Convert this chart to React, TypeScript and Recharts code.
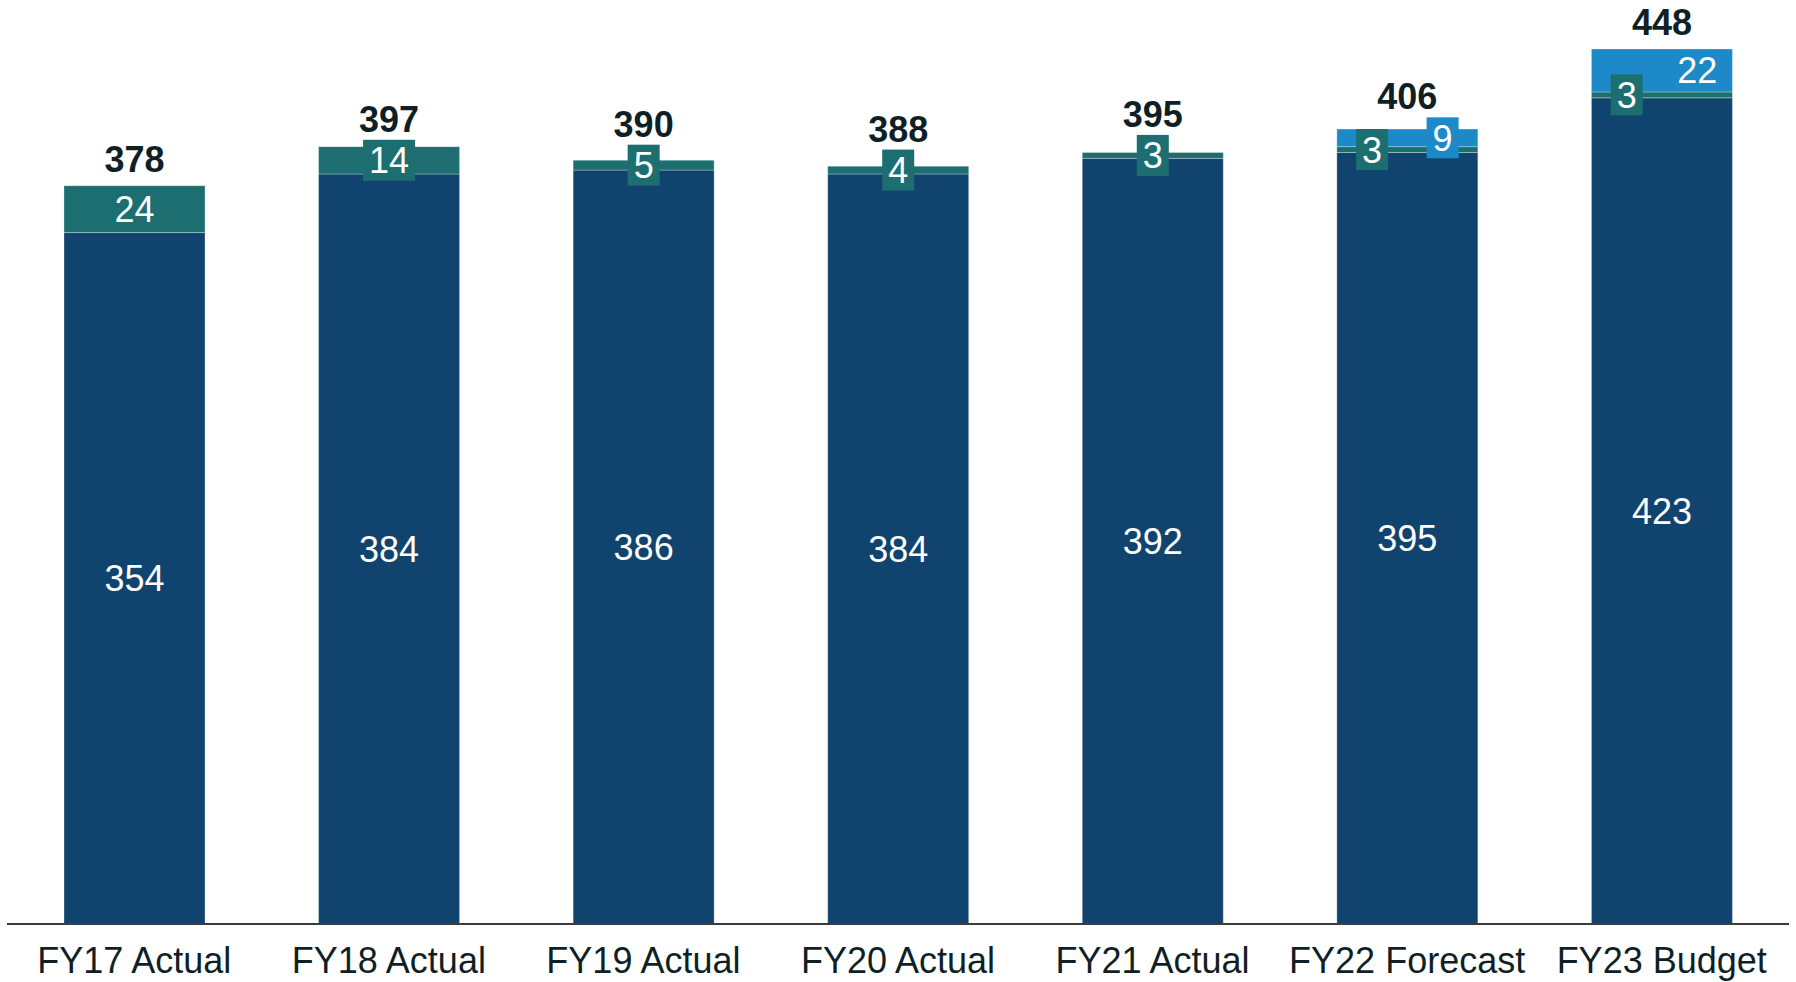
import { BarChart, Bar, XAxis, YAxis, LabelList } from 'recharts';

const categories = ['FY17 Actual', 'FY18 Actual', 'FY19 Actual', 'FY20 Actual', 'FY21 Actual', 'FY22 Forecast', 'FY23 Budget'];
const baseValues = [354, 384, 386, 384, 392, 395, 423];
const tealValues = [24, 14, 5, 4, 3, 3, 3];
const blueValues = [0, 0, 0, 0, 0, 9, 22];
const totals = [378, 397, 390, 388, 395, 406, 448];

const data = categories.map((name, i) => ({
  name,
  base: baseValues[i],
  teal: tealValues[i],
  blue: blueValues[i],
}));

const FONT = '"Liberation Sans", Arial, Helvetica, sans-serif';
const NAVY = '#10436d';
const TEAL = '#1d6e71';
const BLUE = '#1e89c9';
const INK = '#0f1f26';
const BOX_H = 41;

// labels carry the category name so the row can be looked up whatever rects get skipped
const geom = (props: any) => {
  const vb = props.viewBox ?? props;
  return {
    x: Number(vb.x),
    y: Number(vb.y),
    width: Number(vb.width),
    height: Number(vb.height),
    index: categories.indexOf(String(props.value)),
  };
};

// small value labels sit on a box of the segment colour so they read on thin segments
const boxLabel = (cx: number, cy: number, text: number, fill: string) => {
  const w = String(text).length * 20 + 12;
  return (
    <g>
      <rect x={cx - w / 2} y={cy - BOX_H / 2} width={w} height={BOX_H} fill={fill} />
      <text x={cx} y={cy + 13} textAnchor="middle" fill="#ffffff" fontSize={36} fontFamily={FONT}>
        {text}
      </text>
    </g>
  );
};

const totalLabel = (cx: number, y: number, i: number) => (
  <text x={cx} y={y} textAnchor="middle" fill={INK} fontSize={36} fontWeight="bold" fontFamily={FONT}>
    {totals[i]}
  </text>
);

const BaseLabel = (props: any) => {
  const { x, y, width, height, index } = geom(props);
  if (index < 0) return null;
  return (
    <text x={x + width / 2} y={y + height / 2 + 13} textAnchor="middle" fill="#ffffff" fontSize={36} fontFamily={FONT}>
      {baseValues[index]}
    </text>
  );
};

const TealLabel = (props: any) => {
  const { x, y, width, height, index } = geom(props);
  if (index < 0) return null;
  const hasBlue = blueValues[index] > 0;
  const cx = x + width / 2 - (hasBlue ? width / 4 : 0);
  const cy = y + height / 2;
  return (
    <g>
      {boxLabel(cx, cy, tealValues[index], TEAL)}
      {!hasBlue && totalLabel(x + width / 2, Math.min(y - 14, cy - BOX_H / 2 - 8), index)}
    </g>
  );
};

const BlueLabel = (props: any) => {
  const { x, y, width, height, index } = geom(props);
  if (index < 0 || !(blueValues[index] > 0)) return null;
  const cx = x + (width * 3) / 4;
  const cy = y + height / 2;
  return (
    <g>
      {boxLabel(cx, cy, blueValues[index], BLUE)}
      {totalLabel(x + width / 2, Math.min(y - 14, cy - BOX_H / 2 - 8), index)}
    </g>
  );
};

const CategoryTick = (props: any) => {
  const { x, y, payload } = props;
  return (
    <text x={x} y={y + 49} textAnchor="middle" fill={INK} fontSize={36} fontFamily={FONT}>
      {payload.value}
    </text>
  );
};

const nameOf = (d: any) => d.name;

export default function App() {
  return (
    <div style={{ position: 'absolute', left: 0, top: 0, width: 1796, height: 982, background: '#ffffff' }}>
      <BarChart width={1796} height={982} data={data} margin={{ top: 6, right: 7, bottom: 0, left: 7 }}>
        <XAxis
          dataKey="name"
          height={58}
          tickLine={false}
          tickSize={0}
          tickMargin={0}
          axisLine={{ stroke: '#3c3c3c', strokeWidth: 2 }}
          tick={<CategoryTick />}
          interval={0}
        />
        <XAxis xAxisId="ghost" dataKey="name" hide />
        <YAxis hide domain={[0, 470]} />
        <YAxis yAxisId="ghost" hide domain={[0, 470]} />
        <Bar dataKey="base" stackId="a" fill={NAVY} barSize={141} stroke="#ffffff" strokeOpacity={0.3} strokeWidth={1} isAnimationActive={false} />
        <Bar dataKey="teal" stackId="a" fill={TEAL} barSize={141} stroke="#ffffff" strokeOpacity={0.3} strokeWidth={1} isAnimationActive={false} />
        <Bar dataKey="blue" stackId="a" fill={BLUE} barSize={141} stroke="#ffffff" strokeOpacity={0.3} strokeWidth={1} isAnimationActive={false} />
        {/* same stack again, transparent, so every label is drawn above all segments */}
        <Bar dataKey="base" xAxisId="ghost" yAxisId="ghost" stackId="g" fill="transparent" barSize={141} isAnimationActive={false}>
          <LabelList dataKey={nameOf} content={<BaseLabel />} />
        </Bar>
        <Bar dataKey="teal" xAxisId="ghost" yAxisId="ghost" stackId="g" fill="transparent" barSize={141} isAnimationActive={false}>
          <LabelList dataKey={nameOf} content={<TealLabel />} />
        </Bar>
        <Bar dataKey="blue" xAxisId="ghost" yAxisId="ghost" stackId="g" fill="transparent" barSize={141} isAnimationActive={false}>
          <LabelList dataKey={nameOf} content={<BlueLabel />} />
        </Bar>
      </BarChart>
    </div>
  );
}
